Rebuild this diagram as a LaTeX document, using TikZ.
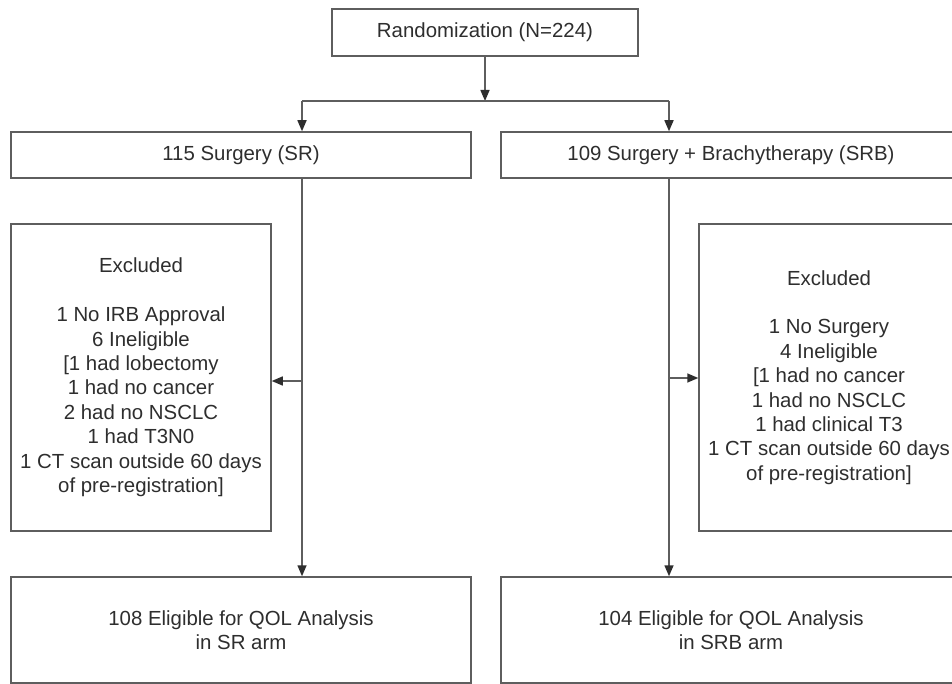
\documentclass[tikz,border=0pt]{standalone}
\usepackage{fontspec}
\setmainfont{Liberation Sans}
\usetikzlibrary{arrows.meta}
\definecolor{ln}{HTML}{5E5E5E}
\definecolor{tx}{HTML}{2E2E2E}
\begin{document}
\begin{tikzpicture}[x=1pt,y=-1pt,
  box/.style={draw=ln,line width=1.5pt,rectangle,inner sep=0pt,align=center,text=tx,
              font=\fontsize{20.4}{24.4}\selectfont},
  conn/.style={draw=ln,line width=1.5pt},
  arr/.style={conn,-{Triangle[length=11pt,width=9pt,fill=tx,color=tx]}}]
\useasboundingbox (0,0) rectangle (952,684);
\fill[white] (0,0) rectangle (952,684);
\node[box,minimum width=306pt,minimum height=47pt] (rand) at (485,32.5) {Randomization (N=224)};
\node[box,minimum width=460pt,minimum height=46pt] (sr) at (241,155) {115 Surgery (SR)};
\node[box,minimum width=460pt,minimum height=46pt] (srb) at (731,155) {109 Surgery + Brachytherapy (SRB)};
\node[box,minimum width=260pt,minimum height=307pt] (exl) at (141,377.5)
  {Excluded\\[24.4pt]1 No IRB Approval\\6 Ineligible\\{[}1 had lobectomy\\1 had no cancer\\2 had no NSCLC\\1 had T3N0\\1 CT scan outside 60 days\\of pre-registration{]}};
\node[box,minimum width=260pt,minimum height=307pt] (exr) at (829,377.5)
  {Excluded\\[24.4pt]1 No Surgery\\4 Ineligible\\{[}1 had no cancer\\1 had no NSCLC\\1 had clinical T3\\1 CT scan outside 60 days\\of pre-registration{]}};
\node[box,minimum width=460pt,minimum height=106pt] (elr) at (241,630) {108 Eligible for QOL Analysis\\in SR arm};
\node[box,minimum width=460pt,minimum height=106pt] (elb) at (731,630) {104 Eligible for QOL Analysis\\in SRB arm};
\coordinate (j) at (485,101);
\coordinate (jl) at (302,101);
\coordinate (jr) at (669,101);
\coordinate (bl) at (302,381);
\coordinate (br) at (669,378);
\draw[arr] (rand.south) -- (j);
\draw[conn] (jl) -- (jr);
\draw[arr] (jl) -- (jl |- sr.north);
\draw[arr] (jr) -- (jr |- srb.north);
\draw[arr] (jl |- sr.south) -- (jl |- elr.north);
\draw[arr] (jr |- srb.south) -- (jr |- elb.north);
\draw[arr] (bl) -- (bl -| exl.east);
\draw[arr] (br) -- (br -| exr.west);
\end{tikzpicture}
\end{document}
